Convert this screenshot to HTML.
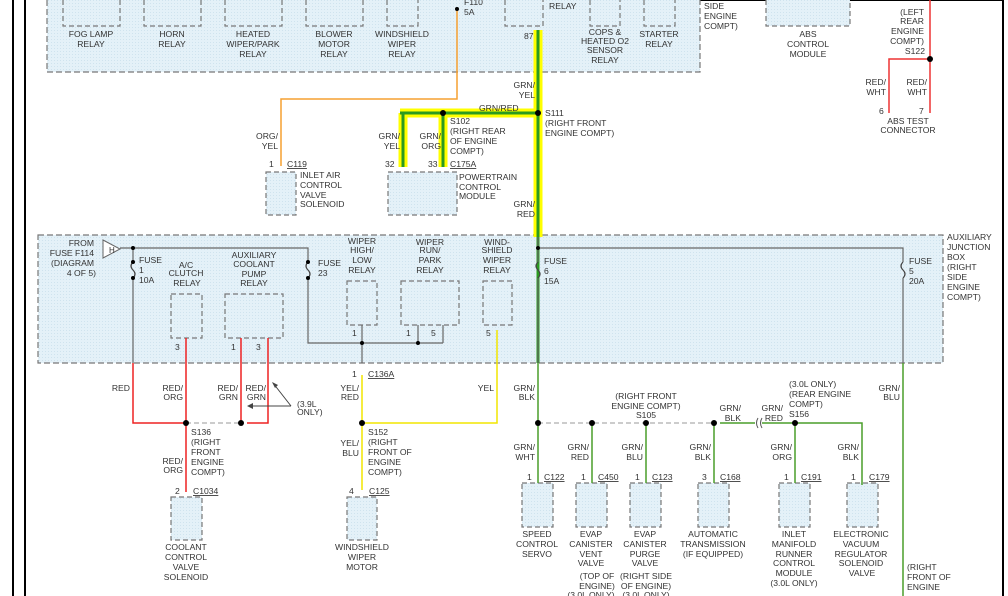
<!DOCTYPE html><html><head><style>body{margin:0;background:#fff}svg{display:block}text{font-family:"Liberation Sans",sans-serif;font-size:8.6px;fill:#333}.m{text-anchor:middle}.e{text-anchor:end}.u{text-decoration:underline}</style></head><body>
<svg width="1008" height="596" viewBox="0 0 1008 596">
<defs><pattern id="p" width="3" height="3" patternUnits="userSpaceOnUse"><rect width="3" height="3" fill="#e4f1f8"/><rect width="1" height="1" fill="#cfe3ee"/></pattern></defs>
<g stroke="#000" stroke-width="2"><line x1="13" y1="0" x2="13" y2="596"/><line x1="25" y1="0" x2="25" y2="596"/><line x1="1003" y1="0" x2="1003" y2="596"/><line x1="500" y1="0" x2="1003" y2="0"/></g>
<g fill="url(#p)" stroke="#777" stroke-dasharray="6,3" stroke-width="1.2">
<path d="M47,0 V72 H700 V0"/>
<rect x="38" y="235" width="905" height="128"/>
</g>
<g fill="url(#p)" stroke="#777" stroke-dasharray="5,3" stroke-width="1.2">
<path d="M63,0V26H120V0M144,0V26H201V0M225,0V26H282V0M306,0V26H363V0M387,0V26H418V0M505,0V26H543V0M590,0V26H620V0M644,0V26H675V0M766,0V26H850V0"/>
<rect x="266" y="172" width="30" height="43"/><rect x="388" y="172" width="69" height="43"/>
<rect x="171" y="294" width="31" height="44"/><rect x="225" y="294" width="58" height="44"/>
<rect x="347" y="281" width="30" height="44"/><rect x="401" y="281" width="58" height="44"/><rect x="483" y="281" width="29" height="44"/>
<rect x="171" y="497" width="31" height="43"/><rect x="347" y="497" width="30" height="43"/>
<rect x="522" y="483" width="31" height="44"/><rect x="576" y="483" width="31" height="44"/><rect x="630" y="483" width="31" height="44"/><rect x="698" y="483" width="31" height="44"/><rect x="779" y="483" width="31" height="44"/><rect x="847" y="483" width="31" height="44"/>
</g>
<g fill="none" stroke-width="1.5">
<path d="M457,9V99H281V166" stroke="#f5a030"/>
<path d="M930,0V59M889,113V59H930V113" stroke="#e33"/>
<path d="M538,30V237M400,113H538M403,113V167M443,113V167" stroke="#ffff00" stroke-width="9"/>
<path d="M538,30V363M400,113H538M403,113V167M443,113V167" stroke="#2a9a20" stroke-width="3"/>
<path d="M120,248H308V262M308,278V343H443M362,343V363M443,343V325M418,343V325M362,325V343M133,248V262M133,278V363M538,248H903V262M903,278V363M538,237V262M538,278V363" stroke="#666" stroke-width="1.2"/>
<path d="M133,262q-4,4 0,8q4,4 0,8M308,262q-4,4 0,8q4,4 0,8M538,262q-4,4 0,8q4,4 0,8M903,262q-4,4 0,8q4,4 0,8" stroke="#444" stroke-width="1.2"/>
<path d="M133,363V423H186M186,338V492M241,338V423M268,338V423H247" stroke="#e22"/>
<path d="M186,423H241" stroke="#999" stroke-dasharray="5,3" stroke-width="1"/>
<path d="M362,375V490M362,423H497V330" stroke="#f2e600"/>
<path d="M538,363V483M592,423V483M646,423V483M714,423V483M795,423V483M862,485V423H795M720,423H755M762,423H795" stroke="#4a9e2a"/>
<path d="M538,423H714" stroke="#999" stroke-dasharray="5,3" stroke-width="1"/>
<path d="M903,363V596" stroke="#4a9e2a"/>
<path d="M291,406L273,383M291,406H248" stroke="#444" stroke-width="1"/>
<path d="M758,418q-3,5 0,10M762,418q-3,5 0,10" stroke="#555" stroke-width="1"/>
<path d="M103,240L120,249L103,258Z" stroke="#666" stroke-width="1" fill="#fff"/>
</g>
<g fill="#444"><path d="M272,382l6,3l-3,3z"/><path d="M247,406l6,-3v6z"/></g>
<g fill="#000"><circle cx="457" cy="9" r="2"/><circle cx="930" cy="59" r="3"/><circle cx="443" cy="113" r="3"/><circle cx="538" cy="113" r="3"/><circle cx="186" cy="423" r="3"/><circle cx="241" cy="423" r="3"/><circle cx="362" cy="423" r="3"/><circle cx="538" cy="423" r="3"/><circle cx="592" cy="423" r="3"/><circle cx="646" cy="423" r="3"/><circle cx="714" cy="423" r="3"/><circle cx="795" cy="423" r="3"/><circle cx="362" cy="343" r="2"/><circle cx="418" cy="343" r="2"/><circle cx="133" cy="262" r="2"/><circle cx="133" cy="278" r="2"/><circle cx="308" cy="262" r="2"/><circle cx="308" cy="278" r="2"/><circle cx="538" cy="248" r="2"/><circle cx="133" cy="248" r="2"/></g>
<text x="109" y="253" style="font-size:8px">H</text>
<g>
<text class="m" x="91" y="37">FOG LAMP</text><text class="m" x="91" y="47">RELAY</text>
<text class="m" x="172" y="37">HORN</text><text class="m" x="172" y="47">RELAY</text>
<text class="m" x="253" y="37">HEATED</text><text class="m" x="253" y="47">WIPER/PARK</text><text class="m" x="253" y="57">RELAY</text>
<text class="m" x="334" y="37">BLOWER</text><text class="m" x="334" y="47">MOTOR</text><text class="m" x="334" y="57">RELAY</text>
<text class="m" x="402" y="37">WINDSHIELD</text><text class="m" x="402" y="47">WIPER</text><text class="m" x="402" y="57">RELAY</text>
<text x="464" y="5">F110</text><text x="464" y="15">5A</text>
<text x="549" y="9">RELAY</text><text x="524" y="39">87</text>
<text class="m" x="605" y="35">COPS &amp;</text><text class="m" x="605" y="44">HEATED O2</text><text class="m" x="605" y="53">SENSOR</text><text class="m" x="605" y="63">RELAY</text>
<text class="m" x="659" y="37">STARTER</text><text class="m" x="659" y="47">RELAY</text>
<text x="704" y="9">SIDE</text><text x="704" y="19">ENGINE</text><text x="704" y="29">COMPT)</text>
<text class="m" x="808" y="37">ABS</text><text class="m" x="808" y="47">CONTROL</text><text class="m" x="808" y="57">MODULE</text>
<text class="e" x="924" y="15">(LEFT</text><text class="e" x="924" y="24">REAR</text><text class="e" x="924" y="34">ENGINE</text><text class="e" x="924" y="44">COMPT)</text><text class="e" x="925" y="54">S122</text>
<text class="e" x="886" y="85">RED/</text><text class="e" x="886" y="95">WHT</text><text class="e" x="927" y="85">RED/</text><text class="e" x="927" y="95">WHT</text>
<text x="879" y="114">6</text><text x="919" y="114">7</text>
<text class="m" x="908" y="124">ABS TEST</text><text class="m" x="908" y="133">CONNECTOR</text>
<text class="e" x="535" y="88">GRN/</text><text class="e" x="535" y="98">YEL</text>
<text class="e" x="535" y="207">GRN/</text><text class="e" x="535" y="217">RED</text>
<text x="479" y="111">GRN/RED</text>
<text x="545" y="116">S111</text><text x="545" y="126">(RIGHT FRONT</text><text x="545" y="136">ENGINE COMPT)</text>
<text x="450" y="124">S102</text><text x="450" y="134">(RIGHT REAR</text><text x="450" y="144">OF ENGINE</text><text x="450" y="154">COMPT)</text>
<text class="e" x="400" y="139">GRN/</text><text class="e" x="400" y="149">YEL</text><text class="e" x="441" y="139">GRN/</text><text class="e" x="441" y="149">ORG</text>
<text x="385" y="167">32</text><text x="428" y="167">33</text><text class="u" x="450" y="167">C175A</text>
<text x="459" y="180">POWERTRAIN</text><text x="459" y="190">CONTROL</text><text x="459" y="199">MODULE</text>
<text class="e" x="278" y="139">ORG/</text><text class="e" x="278" y="149">YEL</text>
<text x="269" y="167">1</text><text class="u" x="287" y="167">C119</text>
<text x="300" y="178">INLET AIR</text><text x="300" y="188">CONTROL</text><text x="300" y="198">VALVE</text><text x="300" y="207">SOLENOID</text>
<text class="e" x="94" y="246">FROM</text><text class="e" x="94" y="256">FUSE F114</text><text class="e" x="94" y="266">(DIAGRAM</text><text class="e" x="96" y="276">4 OF 5)</text>
<text x="139" y="263">FUSE</text><text x="139" y="273">1</text><text x="139" y="283">10A</text>
<text class="m" x="186" y="268">A/C</text><text class="m" x="186" y="276">CLUTCH</text><text class="m" x="187" y="286">RELAY</text>
<text class="m" x="254" y="258">AUXILIARY</text><text class="m" x="254" y="267">COOLANT</text><text class="m" x="254" y="277">PUMP</text><text class="m" x="254" y="286">RELAY</text>
<text x="318" y="266">FUSE</text><text x="318" y="276">23</text>
<text class="m" x="362" y="244">WIPER</text><text class="m" x="362" y="253">HIGH/</text><text class="m" x="362" y="263">LOW</text><text class="m" x="362" y="273">RELAY</text>
<text class="m" x="430" y="245">WIPER</text><text class="m" x="430" y="253">RUN/</text><text class="m" x="430" y="263">PARK</text><text class="m" x="430" y="273">RELAY</text>
<text class="m" x="497" y="245">WIND-</text><text class="m" x="497" y="253">SHIELD</text><text class="m" x="497" y="263">WIPER</text><text class="m" x="497" y="273">RELAY</text>
<text x="544" y="264">FUSE</text><text x="544" y="274">6</text><text x="544" y="284">15A</text>
<text x="909" y="264">FUSE</text><text x="909" y="274">5</text><text x="909" y="284">20A</text>
<text x="947" y="240">AUXILIARY</text><text x="947" y="250">JUNCTION</text><text x="947" y="260">BOX</text><text x="947" y="270">(RIGHT</text><text x="947" y="280">SIDE</text><text x="947" y="290">ENGINE</text><text x="947" y="300">COMPT)</text>
<text x="175" y="350">3</text><text x="231" y="350">1</text><text x="256" y="350">3</text>
<text x="352" y="336">1</text><text x="406" y="336">1</text><text x="431" y="336">5</text><text x="486" y="336">5</text>
<text x="352" y="377">1</text><text class="u" x="368" y="377">C136A</text>
<text class="e" x="130" y="391">RED</text>
<text class="e" x="183" y="391">RED/</text><text class="e" x="183" y="400">ORG</text>
<text class="e" x="238" y="391">RED/</text><text class="e" x="238" y="400">GRN</text>
<text class="e" x="266" y="391">RED/</text><text class="e" x="266" y="400">GRN</text>
<text x="297" y="407">(3.9L</text><text x="297" y="415">ONLY)</text>
<text class="e" x="359" y="391">YEL/</text><text class="e" x="359" y="400">RED</text><text class="e" x="494" y="391">YEL</text>
<text x="191" y="435">S136</text><text x="191" y="445">(RIGHT</text><text x="191" y="455">FRONT</text><text x="191" y="465">ENGINE</text><text x="191" y="475">COMPT)</text>
<text class="e" x="183" y="464">RED/</text><text class="e" x="183" y="473">ORG</text>
<text x="175" y="494">2</text><text class="u" x="193" y="494">C1034</text>
<text class="m" x="186" y="550">COOLANT</text><text class="m" x="186" y="560">CONTROL</text><text class="m" x="186" y="570">VALVE</text><text class="m" x="186" y="580">SOLENOID</text>
<text x="368" y="435">S152</text><text x="368" y="445">(RIGHT</text><text x="368" y="455">FRONT OF</text><text x="368" y="465">ENGINE</text><text x="368" y="475">COMPT)</text>
<text class="e" x="359" y="446">YEL/</text><text class="e" x="359" y="456">BLU</text>
<text x="349" y="494">4</text><text class="u" x="369" y="494">C125</text>
<text class="m" x="362" y="550">WINDSHIELD</text><text class="m" x="362" y="560">WIPER</text><text class="m" x="362" y="570">MOTOR</text>
<text class="e" x="535" y="391">GRN/</text><text class="e" x="535" y="400">BLK</text>
<text class="m" x="646" y="399">(RIGHT FRONT</text><text class="m" x="646" y="409">ENGINE COMPT)</text><text class="m" x="646" y="418">S105</text>
<text class="e" x="741" y="411">GRN/</text><text class="e" x="741" y="421">BLK</text><text class="e" x="783" y="411">GRN/</text><text class="e" x="783" y="421">RED</text>
<text x="789" y="387">(3.0L ONLY)</text><text x="789" y="397">(REAR ENGINE</text><text x="789" y="407">COMPT)</text><text x="789" y="417">S156</text>
<text class="e" x="900" y="391">GRN/</text><text class="e" x="900" y="400">BLU</text>
<text class="e" x="535" y="450">GRN/</text><text class="e" x="535" y="460">WHT</text>
<text class="e" x="589" y="450">GRN/</text><text class="e" x="589" y="460">RED</text>
<text class="e" x="643" y="450">GRN/</text><text class="e" x="643" y="460">BLU</text>
<text class="e" x="711" y="450">GRN/</text><text class="e" x="711" y="460">BLK</text>
<text class="e" x="792" y="450">GRN/</text><text class="e" x="792" y="460">ORG</text>
<text class="e" x="859" y="450">GRN/</text><text class="e" x="859" y="460">BLK</text>
<text x="527" y="480">1</text><text class="u" x="544" y="480">C122</text>
<text x="581" y="480">1</text><text class="u" x="598" y="480">C450</text>
<text x="635" y="480">1</text><text class="u" x="652" y="480">C123</text>
<text x="702" y="480">3</text><text class="u" x="720" y="480">C168</text>
<text x="784" y="480">1</text><text class="u" x="801" y="480">C191</text>
<text x="851" y="480">1</text><text class="u" x="869" y="480">C179</text>
<text class="m" x="537" y="537">SPEED</text><text class="m" x="537" y="547">CONTROL</text><text class="m" x="537" y="557">SERVO</text>
<text class="m" x="591" y="537">EVAP</text><text class="m" x="591" y="547">CANISTER</text><text class="m" x="591" y="557">VENT</text><text class="m" x="591" y="566">VALVE</text>
<text class="m" x="597" y="579">(TOP OF</text><text class="m" x="597" y="589">ENGINE)</text><text class="m" x="591" y="598">(3.0L ONLY)</text>
<text class="m" x="645" y="537">EVAP</text><text class="m" x="645" y="547">CANISTER</text><text class="m" x="645" y="557">PURGE</text><text class="m" x="645" y="566">VALVE</text>
<text class="m" x="646" y="579">(RIGHT SIDE</text><text class="m" x="646" y="589">OF ENGINE)</text><text class="m" x="646" y="598">(3.0L ONLY)</text>
<text class="m" x="713" y="537">AUTOMATIC</text><text class="m" x="713" y="547">TRANSMISSION</text><text class="m" x="713" y="557">(IF EQUIPPED)</text>
<text class="m" x="794" y="537">INLET</text><text class="m" x="794" y="547">MANIFOLD</text><text class="m" x="794" y="557">RUNNER</text><text class="m" x="794" y="566">CONTROL</text><text class="m" x="794" y="576">MODULE</text><text class="m" x="794" y="586">(3.0L ONLY)</text>
<text class="m" x="861" y="537">ELECTRONIC</text><text class="m" x="861" y="547">VACUUM</text><text class="m" x="861" y="557">REGULATOR</text><text class="m" x="861" y="566">SOLENOID</text><text class="m" x="862" y="576">VALVE</text>
<text x="907" y="570">(RIGHT</text><text x="907" y="580">FRONT OF</text><text x="907" y="590">ENGINE</text>
</g>
</svg></body></html>
